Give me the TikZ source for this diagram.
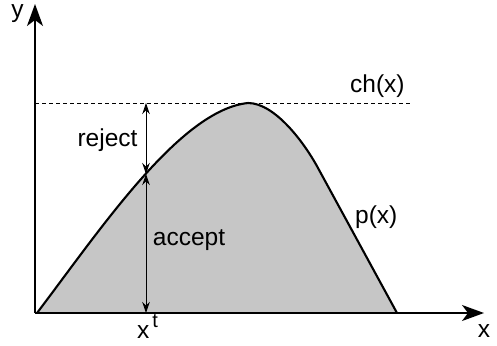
\documentclass[tikz,border=0pt]{standalone}
\usepackage{fontspec}
\setmainfont{Liberation Sans}
\usetikzlibrary{arrows.meta}
\begin{document}
\begin{tikzpicture}[x=1pt,y=-1pt,
  lbl/.style={font=\fontsize{24.5}{28}\selectfont, inner sep=0pt, anchor=base},
  axis/.style={line width=1.4pt, -{Stealth[length=22pt,width=16pt,inset=6pt]}},
  dim/.style={line width=0.9pt, {Stealth[length=11pt,width=7.5pt,inset=3.5pt]}-{Stealth[length=11pt,width=7.5pt,inset=3.5pt]}}]
\useasboundingbox (0,0) rectangle (497,345);
\coordinate (O) at (35,313);
\coordinate (ytip) at (35,4);
\coordinate (xtip) at (484,313);
\coordinate (chL) at (35,103);
\coordinate (chR) at (411,103);
\coordinate (rtop) at (146,103);
\coordinate (rmid) at (146,174);
\coordinate (rbot) at (146,313);
\fill[gray!45] (37,313) .. controls (100,230) and (180,110) .. (248,103)
  .. controls (275,103) and (304.5,143) .. (318,168) -- (397,313) -- cycle;
\draw[line width=2.1pt, line join=round] (37,313) .. controls (100,230) and (180,110) .. (248,103)
  .. controls (275,103) and (304.5,143) .. (318,168) -- (397,313);
\draw[line width=0.8pt, dash pattern=on 4pt off 3pt] (chL) -- (chR);
\draw[axis] (O) -- (ytip);
\draw[axis] (O) -- (xtip);
\draw[dim] (rtop) -- (rmid);
\draw[dim] (rmid) -- (rbot);
\node[lbl] (ylab) at (17.5,18) {y};
\node[lbl] (xlab) at (484,337) {x};
\node[lbl, anchor=base west] (xt) at (137,338) {x\hspace{3pt}\raisebox{11pt}{\fontsize{20}{22}\selectfont t}};
\node[lbl, anchor=base west] (ch) at (350,92) {ch(x)};
\node[lbl] (rej) at (107.5,146) {reject};
\node[lbl] (acc) at (189,245) {accept};
\node[lbl, anchor=base west] (px) at (355,223) {p(x)};
\end{tikzpicture}
\end{document}
